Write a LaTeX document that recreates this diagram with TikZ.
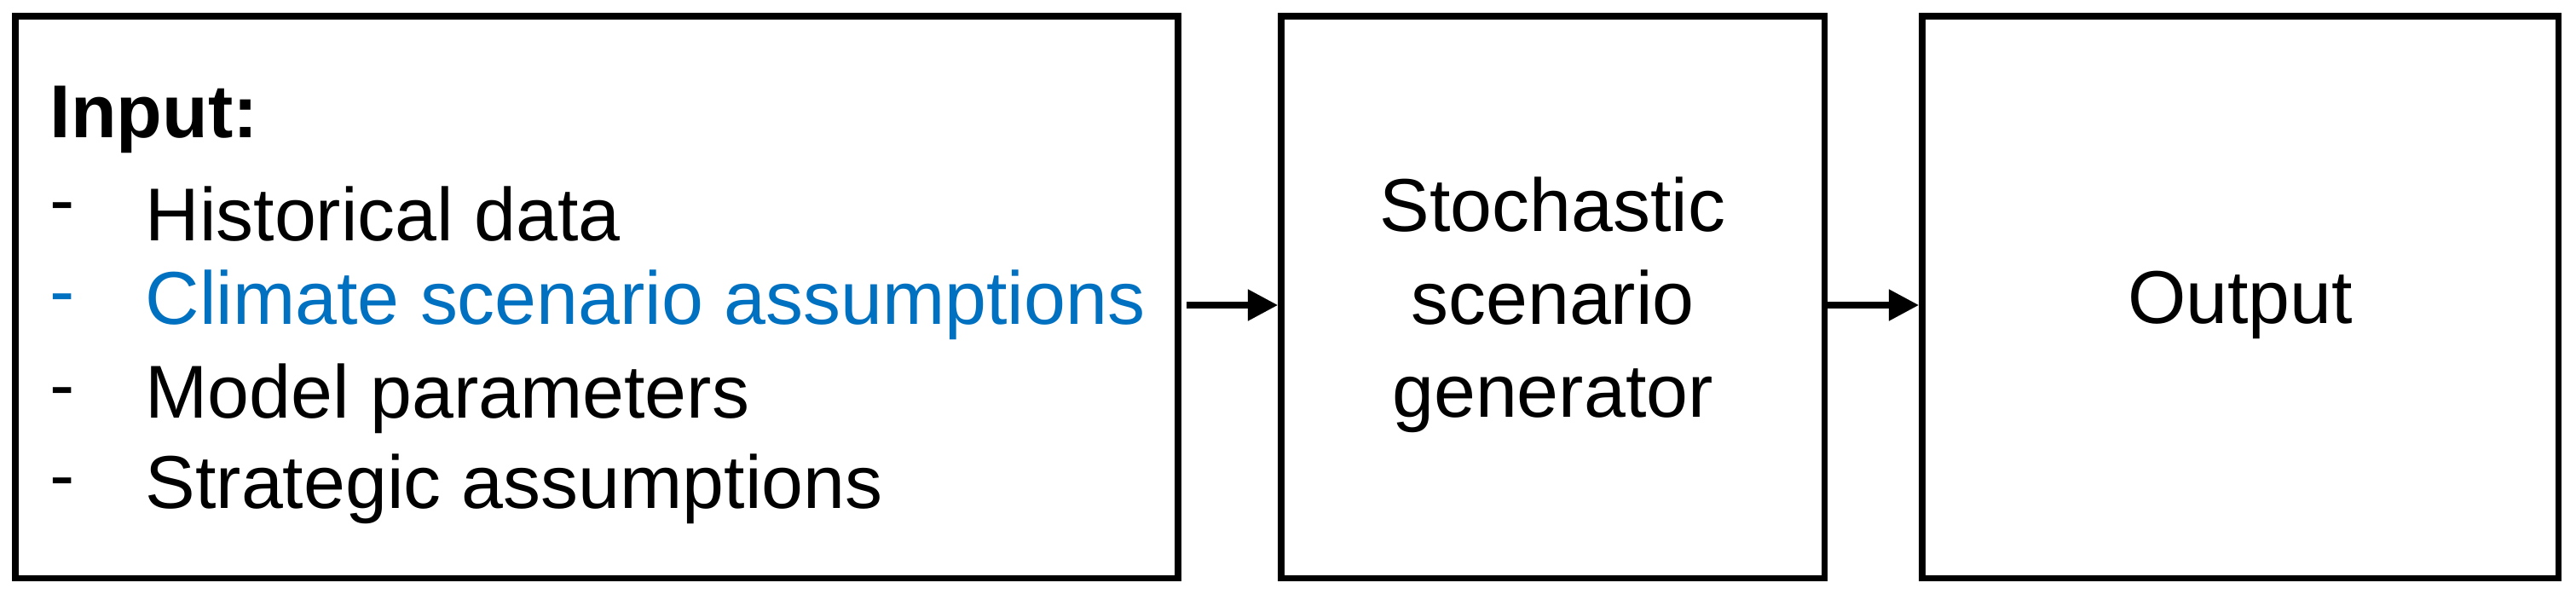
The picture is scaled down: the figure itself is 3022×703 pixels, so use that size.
\documentclass[tikz,border=0pt]{standalone}
\usepackage{fontspec}
\setmainfont{Liberation Sans}
\usetikzlibrary{arrows.meta}
\definecolor{blu}{HTML}{0070C0}
\begin{document}
\begin{tikzpicture}[x=0.01cm,y=-0.01cm,
  box/.style={draw,line width=2.1pt,inner sep=0,minimum height=6.59cm},
  arr/.style={line width=2.1pt,-{Triangle[length=10pt,width=10pt]}},
  txt/.style={font=\fontsize{25}{31}\selectfont,anchor=west,inner sep=0}]
\useasboundingbox (0,0) rectangle (3022,703);
\node[box,minimum width=13.63cm] (b1) at (700,348.5) {};
\node[box,minimum width=6.37cm] (b2) at (1821.5,348.5) {};
\node[align=center,font=\fontsize{25}{31}\selectfont,inner sep=0] (l2) at (1821.5,358) {Stochastic\\scenario\\generator};
\node[box,minimum width=7.46cm] (b3) at (2628,348.5) {};
\node[font=\fontsize{25}{31}\selectfont,inner sep=0] (l3) at (2628,358) {Output};
\node[txt,font=\fontsize{25}{31}\selectfont\bfseries] (t0) at (58,140) {Input:};
\node[txt] (d1) at (58,251) {-};
\node[txt] (t1) at (170,251) {Historical data};
\node[txt,text=blu] (d2) at (58,358) {-};
\node[txt,text=blu] (t2) at (170,358) {Climate scenario assumptions};
\node[txt] (d3) at (58,468) {-};
\node[txt] (t3) at (170,468) {Model parameters};
\node[txt] (d4) at (58,574) {-};
\node[txt] (t4) at (170,574) {Strategic assumptions};
\coordinate (a1) at (1392,358);
\coordinate (a2) at (2140,358);
\draw[arr] (a1) -- (b2.west|-a1);
\draw[arr] (a2) -- (b3.west|-a2);
\end{tikzpicture}
\end{document}
